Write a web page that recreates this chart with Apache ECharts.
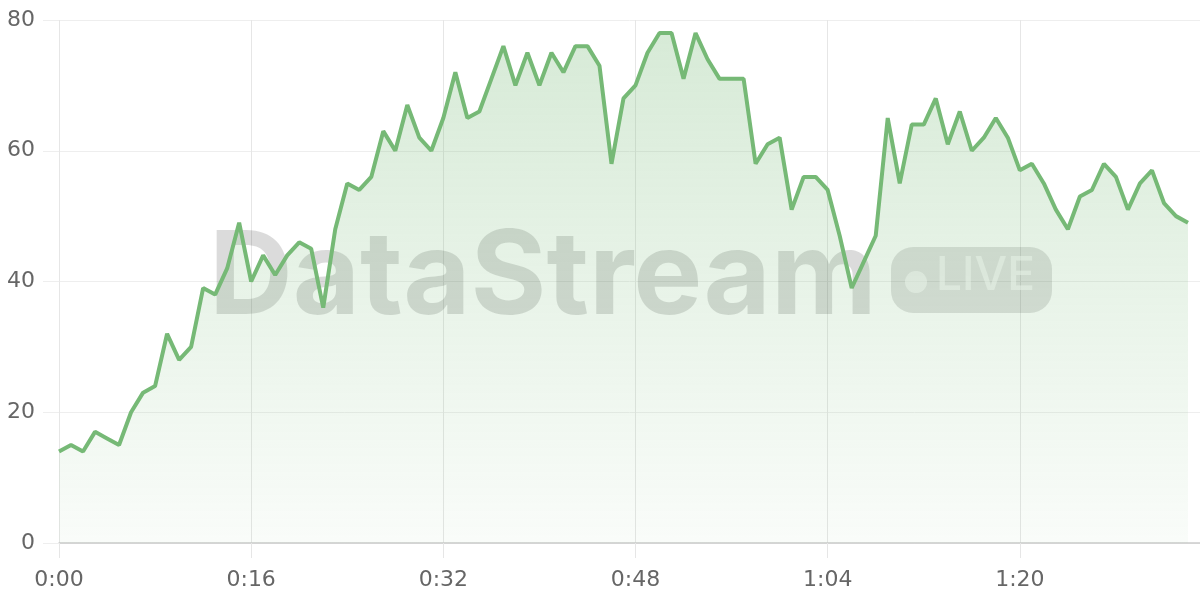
<!DOCTYPE html>
<html>
<head>
<meta charset="utf-8">
<style>
  html, body { margin: 0; padding: 0; background: #fff; }
  #chart { width: 1200px; height: 600px; }
</style>
<script src="https://cdn.jsdelivr.net/npm/echarts@6/dist/echarts.min.js"></script>
</head>
<body>
<div id="chart"></div>
<script>
// values, one per second from 0:00 to 1:34
var values = [
    14, 15, 14, 17, 16, 15, 20, 23, 24, 32,
    28, 30, 39, 38, 42, 49, 40, 44, 41, 44,
    46, 45, 36, 48, 55, 54, 56, 63, 60, 67,
    62, 60, 65, 72, 65, 66, 71, 76, 70, 75,
    70, 75, 72, 76, 76, 73, 58, 68, 70, 75,
    78, 78, 71, 78, 74, 71, 71, 71, 58, 61,
    62, 51, 56, 56, 54, 47, 39, 43, 47, 65,
    55, 64, 64, 68, 61, 66, 60, 62, 65, 62,
    57, 58, 55, 51, 48, 53, 54, 58, 56, 51,
    55, 57, 52, 50, 49
];
var yTicks = [0, 20, 40, 60, 80];
var xTickSeconds = [0, 16, 32, 48, 64, 80];

var watermark = 'DataStream';
var badge = 'LIVE';

function fmtTime(s) {
    var m = Math.floor(s / 60);
    var sec = s % 60;
    return m + ':' + (sec < 10 ? '0' + sec : sec);
}

var chart = echarts.init(document.getElementById('chart'));

var option = {
    animation: false,
    grid: { left: 59, right: 0, top: 20, bottom: 57 },
    xAxis: {
        type: 'value',
        min: 0,
        max: 95,
        interval: 16,
        axisLine: { lineStyle: { color: '#cccccc', width: 1.5 } },
        axisTick: { show: true, length: 15, lineStyle: { color: '#e6e6e6' } },
        splitLine: { show: true, lineStyle: { color: '#e6e6e6' } },
        axisLabel: {
            showMaxLabel: false,
            color: '#666',
            fontSize: 22,
            fontFamily: 'DejaVu Sans',
            margin: 26,
            formatter: function (v) {
                return xTickSeconds.indexOf(v) >= 0 ? fmtTime(v) : '';
            }
        }
    },
    yAxis: {
        type: 'value',
        min: yTicks[0],
        max: yTicks[yTicks.length - 1],
        interval: 20,
        axisLine: { show: false },
        axisTick: { show: true, length: 16, lineStyle: { color: '#eeeeee' } },
        splitLine: { lineStyle: { color: '#eeeeee' } },
        axisLabel: { color: '#666', fontSize: 22, fontFamily: 'DejaVu Sans', margin: 24 }
    },
    graphic: [
        {
            type: 'text',
            left: 209,
            top: 221,
            z: 1,
            silent: true,
            style: {
                text: watermark,
                font: 'bold 116px Inter',
                fill: 'rgba(0,0,0,0.14)'
            }
        },
        {
            type: 'rect',
            left: 891,
            top: 247,
            z: 1,
            silent: true,
            shape: { width: 161, height: 66, r: 22 },
            style: { fill: 'rgba(0,0,0,0.12)' }
        },
        {
            type: 'circle',
            left: 905,
            top: 271,
            z: 1,
            silent: true,
            shape: { r: 11 },
            style: { fill: 'rgba(255,255,255,0.55)' }
        },
        {
            type: 'text',
            left: 936,
            top: 253,
            z: 1,
            silent: true,
            style: {
                text: badge,
                font: '500 46px Inter',
                fill: 'rgba(255,255,255,0.55)'
            }
        }
    ],
    series: [{
        type: 'line',
        data: values.map(function (v, i) { return [i, v]; }),
        symbol: 'none',
        z: 3,
        lineStyle: { color: '#76b976', width: 4 },
        itemStyle: { color: '#76b976' },
        areaStyle: {
            color: new echarts.graphic.LinearGradient(0, 0, 0, 1, [
                { offset: 0, color: 'rgba(118,185,118,0.42)' },
                { offset: 1, color: 'rgba(118,185,118,0.06)' }
            ])
        }
    }]
};

chart.setOption(option);
</script>
</body>
</html>
